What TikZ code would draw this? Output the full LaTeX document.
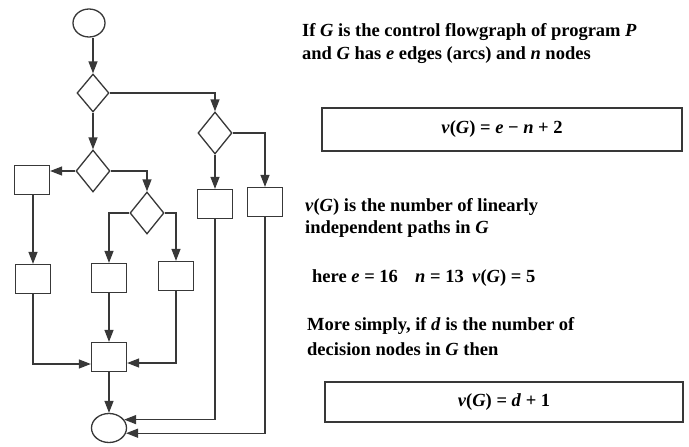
\documentclass[tikz,border=0pt]{standalone}
\usepackage{fontspec}
\setmainfont{Liberation Serif}
\usetikzlibrary{shapes.geometric,arrows.meta,calc}
\begin{document}
\begin{tikzpicture}[x=1pt,y=-1pt,
  ln/.style={line width=1.3pt, draw=black!78},
  arr/.style={ln,-{Triangle[length=12pt,width=9pt]}},
  dec/.style={diamond, ln, minimum width=34pt, minimum height=42pt, inner sep=0pt},
  blk/.style={rectangle, ln, minimum width=35pt, minimum height=29pt, inner sep=0pt},
  term/.style={ellipse, ln, minimum width=32pt, minimum height=28pt, inner sep=0pt},
  txt/.style={anchor=base west, inner sep=0pt, font=\fontsize{18.5}{22}\selectfont\bfseries},
  frm/.style={ln, line width=1.2pt, inner sep=0pt, font=\fontsize{18.5}{22}\selectfont\bfseries}]
\useasboundingbox[fill=white] (0,0) rectangle (689,447);
% flowgraph nodes
\node[term] (s) at (89,23) {};
\node[dec, minimum width=32pt, minimum height=38pt] (d1) at (93,93) {};
\node[dec] (d2) at (215,133) {};
\node[dec] (d3) at (93,171) {};
\node[dec] (d4) at (147,213) {};
\node[blk] (A) at (32,180) {};
\node[blk] (B) at (33,279) {};
\node[blk] (C) at (109,278) {};
\node[blk] (D) at (176,276) {};
\node[blk] (E) at (215,204) {};
\node[blk] (F) at (265,202) {};
\node[blk] (G) at (109,357) {};
\node[term, minimum width=35pt, minimum height=29pt] (t) at (109,428) {};
% connectors
\draw[arr] (s.south -| d1.north) -- (d1.north);
\draw[arr] (d1.east) -| (d2.north);
\draw[arr] (d1.south) -- (d3.north);
\draw[arr] (d3.west) -- (d3.west -| A.east);
\draw[arr] (d3.east) -| (d4.north);
\draw[arr] (d4.west) -| (C.north);
\draw[arr] (d4.east) -| (D.north);
\draw[arr] (d2.south) -- (E.north);
\draw[arr] (d2.east) -| (F.north);
\draw[arr] (A.south -| B.north) -- (B.north);
\draw[arr] (B.south) |- ($(G.west)+(0,7)$);
\draw[arr] (C.south) -- (G.north);
\draw[arr] (D.south) |- ($(G.east)+(0,6)$);
\draw[arr] (G.south) -- (t.north);
\draw[arr] (E.south) |- (t.29);
\draw[arr] (F.south) |- (t.-17);
% text
\node[txt] (l1) at (302,36) {If \textit{G} is the control flowgraph of program \textit{P}};
\node[txt] (l2) at (302,59) {and \textit{G} has \textit{e} edges (arcs) and \textit{n} nodes};
\node[frm, draw, minimum width=360pt, minimum height=43pt] (f1) at (502,129.5) {\textit{ν}(\textit{G}) = \textit{e} − \textit{n} + 2};
\node[txt] (l3) at (305,211) {\textit{ν}(\textit{G}) is the number of linearly};
\node[txt] (l4) at (305,233) {independent paths in \textit{G}};
\node[txt] (l5) at (312,282) {here \textit{e} = 16};
\node[txt] (l5b) at (415,282) {\textit{n} = 13};
\node[txt] (l5c) at (472,282) {\textit{ν}(\textit{G}) = 5};
\node[txt] (l6) at (307,330) {More simply, if \textit{d} is the number of};
\node[txt] (l7) at (307,355) {decision nodes in \textit{G} then};
\node[frm, draw, minimum width=358pt, minimum height=40pt] (f2) at (504,402) {\textit{ν}(\textit{G}) = \textit{d} + 1};
\end{tikzpicture}
\end{document}
